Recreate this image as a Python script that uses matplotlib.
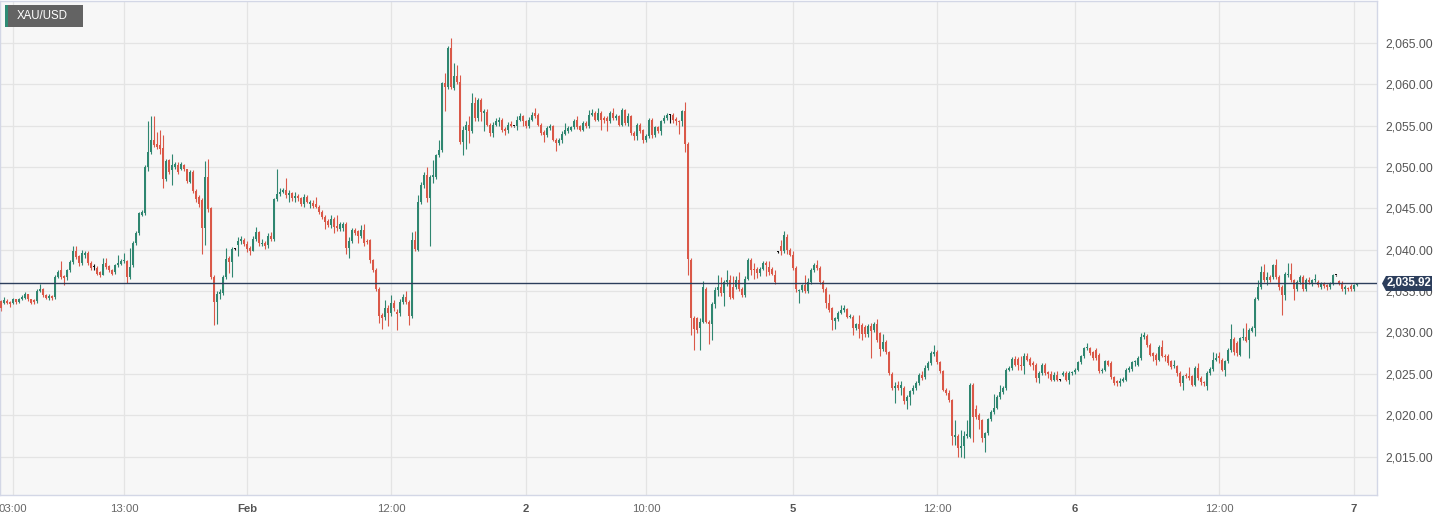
import numpy as np
import matplotlib
matplotlib.use("Agg")
import matplotlib.pyplot as plt
from matplotlib.patches import Polygon, Rectangle
from matplotlib.transforms import IdentityTransform

plt.rcParams['font.family'] = ['Liberation Sans', 'DejaVu Sans']

# XAU/USD 15-minute candles
open_ = [
    2033.8, 2033.6, 2033.8, 2033.6, 2033.6, 2034.0, 2033.7, 2034.0, 2034.2, 2034.6,
    2034.0, 2033.9, 2033.8, 2035.0, 2035.2, 2034.5, 2034.2, 2034.4, 2034.3, 2036.7,
    2037.5, 2036.8, 2036.7, 2037.5, 2038.5, 2039.9, 2039.2, 2038.4, 2039.4, 2039.6,
    2038.4, 2037.9, 2037.8, 2037.3, 2037.0, 2038.4, 2038.0, 2037.6, 2037.3, 2038.1,
    2038.3, 2038.6, 2038.6, 2036.7, 2038.1, 2040.8, 2042.0, 2044.2, 2044.4, 2050.0,
    2051.8, 2053.2, 2052.8, 2052.6, 2052.3, 2048.5, 2050.8, 2049.6, 2050.0, 2050.2,
    2049.8, 2050.2, 2049.7, 2048.2, 2049.4, 2047.1, 2046.4, 2046.0, 2042.6, 2048.8,
    2045.0, 2036.7, 2033.7, 2034.7, 2034.8, 2036.7, 2039.0, 2038.5, 2040.1, 2040.6,
    2041.0, 2041.2, 2040.7, 2040.2, 2039.9, 2041.3, 2042.1, 2040.7, 2040.8, 2040.6,
    2041.6, 2041.3, 2046.1, 2046.7, 2047.0, 2047.2, 2046.6, 2046.8, 2046.3, 2046.5,
    2046.2, 2045.5, 2046.4, 2045.5, 2045.6, 2045.5, 2045.2, 2044.6, 2044.0, 2043.5,
    2043.0, 2043.7, 2042.9, 2042.5, 2042.6, 2043.1, 2040.2, 2041.0, 2042.4, 2042.2,
    2041.6, 2042.4, 2041.1, 2041.2, 2038.7, 2037.6, 2035.3, 2032.1, 2031.9, 2033.0,
    2032.3, 2033.6, 2032.5, 2032.3, 2033.7, 2034.3, 2033.7, 2032.0, 2041.2, 2040.0,
    2045.8, 2047.8, 2049.0, 2046.3, 2048.8, 2048.8, 2051.4, 2052.0, 2060.1, 2059.6,
    2064.4, 2059.5, 2061.0, 2060.2, 2053.0, 2054.5, 2055.1, 2054.3, 2057.7, 2055.9,
    2058.1, 2056.5, 2056.6, 2055.1, 2054.1, 2055.1, 2055.4, 2055.7, 2054.6, 2054.4,
    2055.2, 2054.9, 2054.9, 2055.7, 2056.1, 2055.5, 2054.9, 2055.7, 2056.5, 2056.3,
    2055.1, 2054.2, 2053.9, 2054.7, 2054.9, 2053.3, 2052.9, 2053.2, 2054.0, 2054.3,
    2054.5, 2054.8, 2055.7, 2054.9, 2054.5, 2055.3, 2054.9, 2056.3, 2056.5, 2055.7,
    2056.5, 2055.9, 2055.9, 2055.5, 2056.5, 2055.9, 2056.1, 2055.1, 2056.9, 2055.3,
    2056.1, 2054.1, 2053.7, 2055.1, 2054.4, 2053.3, 2053.7, 2055.7, 2053.8, 2054.8,
    2054.3, 2055.5, 2055.9, 2056.3, 2056.3, 2055.8, 2055.5, 2055.5, 2056.7, 2052.8,
    2038.8, 2031.8, 2031.7, 2030.5, 2031.3, 2035.2, 2031.3, 2031.0, 2033.5, 2035.1,
    2035.5, 2034.8, 2036.1, 2036.3, 2035.5, 2035.5, 2036.3, 2035.3, 2034.5, 2036.5,
    2038.8, 2037.7, 2037.7, 2037.2, 2037.7, 2038.4, 2037.9, 2037.7, 2037.0, 2039.7,
    2040.5, 2039.8, 2041.5, 2040.0, 2039.4, 2037.8, 2035.0, 2035.1, 2035.7, 2035.0,
    2036.1, 2037.5, 2038.1, 2037.8, 2036.1, 2035.3, 2033.6, 2032.9, 2031.4, 2031.6,
    2032.4, 2032.7, 2032.8, 2031.9, 2031.9, 2030.5, 2031.0, 2030.9, 2030.7, 2029.8,
    2030.8, 2030.3, 2031.0, 2029.9, 2028.0, 2028.9, 2027.6, 2025.0, 2023.3, 2023.6,
    2023.3, 2023.3, 2021.7, 2022.2, 2022.9, 2023.3, 2023.9, 2024.9, 2024.6, 2025.7,
    2026.3, 2027.4, 2027.7, 2026.4, 2025.3, 2023.1, 2022.7, 2021.8, 2017.4, 2017.5,
    2016.0, 2016.3, 2017.5, 2017.4, 2023.7, 2020.8, 2020.0, 2019.4, 2017.2, 2017.8,
    2019.5, 2020.4, 2020.9, 2022.2, 2022.8, 2023.3, 2025.5, 2025.7, 2026.8, 2026.8,
    2026.1, 2025.9, 2027.1, 2026.8, 2026.3, 2026.1, 2024.5, 2025.1, 2026.1, 2025.2,
    2025.0, 2024.3, 2024.9, 2024.3, 2024.9, 2025.1, 2024.3, 2025.1, 2025.2, 2025.5,
    2026.4, 2027.1, 2028.1, 2028.1, 2027.6, 2027.9, 2027.3, 2025.3, 2025.5, 2026.5,
    2026.3, 2024.6, 2024.1, 2023.9, 2024.2, 2024.3, 2025.5, 2025.6, 2026.4, 2026.1,
    2026.9, 2029.4, 2029.6, 2028.5, 2027.5, 2027.3, 2026.7, 2028.2, 2027.2, 2027.2,
    2026.5, 2025.9, 2025.9, 2025.1, 2023.9, 2024.9, 2024.7, 2024.7, 2023.7, 2025.7,
    2024.5, 2024.0, 2023.5, 2025.1, 2025.6, 2026.7, 2027.1, 2026.7, 2025.5, 2026.5,
    2027.9, 2029.2, 2028.7, 2027.3, 2029.3, 2029.4, 2029.1, 2030.2, 2030.6, 2034.1,
    2035.5, 2037.3, 2036.3, 2036.7, 2036.7, 2038.1, 2036.7, 2035.5, 2034.5, 2036.9,
    2037.1, 2036.3, 2035.2, 2036.1, 2036.7, 2035.2, 2036.4, 2035.9, 2036.3, 2036.1,
    2035.5, 2035.9, 2035.7, 2035.5, 2035.9, 2036.9, 2036.2, 2036.0, 2035.2, 2035.3,
    2035.6, 2035.2, 2035.7,
]
high = [
    2033.9, 2034.3, 2034.0, 2033.8, 2034.2, 2034.1, 2034.2, 2034.5, 2034.9, 2034.7,
    2034.1, 2034.0, 2035.2, 2035.9, 2035.4, 2034.6, 2034.6, 2034.5, 2036.9, 2037.6,
    2038.6, 2037.0, 2037.7, 2038.7, 2040.5, 2040.4, 2039.4, 2040.0, 2039.9, 2039.8,
    2038.6, 2038.3, 2038.0, 2037.4, 2039.0, 2039.0, 2038.1, 2037.7, 2038.3, 2039.4,
    2038.9, 2039.6, 2038.8, 2040.2, 2041.0, 2042.3, 2044.6, 2044.8, 2050.2, 2055.5,
    2056.1, 2056.1, 2054.2, 2054.4, 2053.9, 2051.0, 2051.0, 2051.6, 2050.6, 2050.6,
    2050.6, 2050.4, 2049.8, 2049.6, 2049.6, 2047.3, 2046.6, 2046.3, 2050.7, 2050.9,
    2045.2, 2036.9, 2035.0, 2035.2, 2037.0, 2040.2, 2039.2, 2040.3, 2040.2, 2041.5,
    2041.6, 2041.4, 2041.0, 2040.4, 2041.6, 2042.8, 2042.3, 2041.3, 2041.0, 2042.0,
    2042.1, 2046.3, 2049.7, 2047.5, 2047.5, 2048.6, 2047.2, 2047.0, 2047.0, 2046.7,
    2046.4, 2046.7, 2046.6, 2046.0, 2046.0, 2046.4, 2045.4, 2044.8, 2044.2, 2043.7,
    2044.2, 2043.9, 2044.2, 2043.4, 2043.3, 2043.4, 2041.5, 2042.6, 2042.6, 2042.4,
    2043.0, 2043.1, 2041.3, 2041.3, 2038.9, 2037.8, 2035.5, 2032.4, 2033.9, 2033.3,
    2034.5, 2033.9, 2032.8, 2034.0, 2034.6, 2035.0, 2033.9, 2042.1, 2042.3, 2046.6,
    2048.2, 2049.4, 2050.0, 2049.0, 2050.8, 2051.6, 2053.2, 2060.3, 2061.4, 2064.6,
    2065.6, 2062.5, 2062.3, 2061.1, 2055.0, 2055.6, 2056.2, 2058.9, 2058.4, 2058.3,
    2058.3, 2057.0, 2057.0, 2055.3, 2055.4, 2055.9, 2056.0, 2055.9, 2054.8, 2055.4,
    2055.5, 2055.0, 2056.1, 2056.5, 2056.3, 2055.7, 2056.0, 2056.6, 2057.1, 2056.5,
    2055.3, 2054.4, 2054.9, 2055.2, 2055.1, 2053.5, 2053.5, 2054.3, 2055.3, 2055.0,
    2055.0, 2055.8, 2056.1, 2055.1, 2055.6, 2055.5, 2056.9, 2057.0, 2056.7, 2057.1,
    2056.7, 2056.1, 2056.1, 2056.8, 2057.1, 2056.4, 2056.3, 2057.1, 2057.0, 2056.5,
    2056.3, 2054.3, 2055.3, 2055.3, 2054.6, 2054.0, 2055.9, 2055.9, 2055.0, 2055.0,
    2055.7, 2056.3, 2056.5, 2056.4, 2056.5, 2056.0, 2055.7, 2056.9, 2057.8, 2053.0,
    2039.0, 2032.0, 2031.9, 2031.7, 2036.2, 2035.5, 2031.5, 2033.7, 2035.5, 2037.0,
    2036.7, 2036.4, 2037.6, 2037.0, 2036.8, 2036.8, 2037.3, 2035.5, 2036.8, 2039.0,
    2039.0, 2038.4, 2037.9, 2037.9, 2038.6, 2038.6, 2038.6, 2037.9, 2037.6, 2039.8,
    2041.2, 2042.3, 2041.9, 2040.2, 2039.9, 2038.0, 2035.3, 2035.9, 2036.9, 2036.6,
    2037.8, 2038.4, 2038.8, 2038.0, 2036.3, 2035.5, 2034.6, 2033.1, 2031.9, 2032.6,
    2033.3, 2033.3, 2033.0, 2032.2, 2032.1, 2031.2, 2032.1, 2031.1, 2030.9, 2031.0,
    2031.1, 2031.3, 2031.6, 2030.1, 2029.8, 2029.1, 2027.8, 2025.2, 2024.0, 2024.2,
    2024.1, 2023.5, 2022.4, 2023.1, 2023.6, 2024.2, 2025.1, 2025.3, 2026.1, 2026.5,
    2027.8, 2028.5, 2027.9, 2026.6, 2025.5, 2023.3, 2023.1, 2022.0, 2019.4, 2017.7,
    2018.2, 2018.1, 2019.4, 2023.9, 2023.9, 2021.2, 2020.3, 2019.6, 2018.0, 2019.7,
    2020.6, 2022.6, 2022.4, 2023.7, 2023.5, 2025.7, 2025.9, 2027.0, 2027.2, 2027.0,
    2027.1, 2027.5, 2027.5, 2027.0, 2026.5, 2026.3, 2025.4, 2026.3, 2026.3, 2025.4,
    2025.3, 2025.2, 2025.3, 2024.4, 2025.4, 2025.3, 2025.4, 2025.4, 2025.7, 2026.6,
    2027.3, 2028.3, 2028.7, 2028.3, 2027.8, 2028.1, 2027.5, 2025.7, 2026.7, 2026.7,
    2026.5, 2024.8, 2024.3, 2024.5, 2024.6, 2025.7, 2025.9, 2026.6, 2026.7, 2027.1,
    2029.9, 2030.0, 2029.8, 2028.7, 2027.7, 2027.5, 2028.5, 2029.1, 2027.4, 2027.4,
    2026.7, 2026.7, 2026.1, 2025.3, 2024.9, 2025.1, 2025.8, 2024.9, 2025.9, 2026.3,
    2024.7, 2024.2, 2025.3, 2025.8, 2027.7, 2027.5, 2027.7, 2026.9, 2026.7, 2028.1,
    2031.0, 2029.4, 2029.0, 2029.5, 2030.5, 2031.2, 2030.5, 2030.8, 2034.3, 2036.3,
    2038.0, 2038.3, 2037.3, 2036.9, 2038.3, 2038.9, 2036.9, 2035.7, 2037.3, 2038.4,
    2038.4, 2036.5, 2036.3, 2037.0, 2036.9, 2036.6, 2036.7, 2036.5, 2037.1, 2036.3,
    2036.1, 2036.1, 2035.9, 2036.1, 2037.1, 2037.0, 2036.4, 2036.2, 2035.7, 2035.5,
    2035.9, 2035.9, 2036.0,
]
low = [
    2032.6, 2033.4, 2033.4, 2033.1, 2033.4, 2033.4, 2033.6, 2033.9, 2034.1, 2033.8,
    2033.4, 2033.4, 2033.6, 2034.9, 2034.3, 2034.0, 2033.9, 2033.9, 2034.1, 2036.6,
    2036.5, 2035.7, 2036.4, 2037.3, 2038.3, 2038.9, 2038.0, 2038.2, 2039.0, 2038.2,
    2037.6, 2037.5, 2036.9, 2036.7, 2036.9, 2037.7, 2037.3, 2036.9, 2037.1, 2037.9,
    2038.1, 2038.4, 2036.0, 2036.5, 2037.9, 2040.6, 2041.8, 2044.1, 2044.2, 2049.5,
    2051.5, 2052.4, 2052.2, 2051.5, 2047.5, 2048.3, 2049.2, 2047.8, 2049.8, 2049.2,
    2049.6, 2049.5, 2048.0, 2048.0, 2046.9, 2045.8, 2045.1, 2039.5, 2040.6, 2044.5,
    2036.5, 2030.9, 2031.0, 2034.0, 2034.5, 2036.5, 2037.2, 2036.7, 2040.0, 2039.2,
    2040.7, 2040.4, 2039.7, 2039.3, 2039.8, 2041.0, 2040.5, 2040.5, 2040.1, 2040.2,
    2041.1, 2041.1, 2045.9, 2046.5, 2046.8, 2046.3, 2045.8, 2045.9, 2045.8, 2045.9,
    2045.3, 2045.2, 2045.6, 2045.0, 2045.0, 2045.0, 2044.3, 2043.7, 2042.5, 2042.8,
    2042.6, 2042.0, 2042.3, 2042.3, 2042.3, 2039.5, 2039.0, 2040.8, 2041.8, 2040.8,
    2041.4, 2040.5, 2040.7, 2038.4, 2037.3, 2035.0, 2031.2, 2030.4, 2031.5, 2030.8,
    2032.0, 2032.6, 2030.3, 2032.0, 2033.5, 2033.5, 2030.9, 2031.8, 2039.9, 2039.8,
    2045.5, 2047.5, 2045.8, 2040.4, 2048.1, 2048.5, 2051.2, 2051.8, 2056.7, 2059.4,
    2059.4, 2059.3, 2060.0, 2052.8, 2051.4, 2052.2, 2052.9, 2054.1, 2055.5, 2055.5,
    2055.5, 2054.3, 2054.9, 2053.7, 2053.6, 2054.9, 2055.0, 2054.2, 2053.9, 2054.1,
    2054.8, 2054.8, 2054.5, 2055.5, 2055.0, 2054.7, 2054.7, 2055.5, 2055.9, 2054.9,
    2053.9, 2053.0, 2053.6, 2054.5, 2053.1, 2051.9, 2052.7, 2052.9, 2053.8, 2054.1,
    2054.3, 2054.6, 2054.6, 2054.3, 2054.3, 2054.7, 2054.7, 2056.1, 2055.5, 2055.5,
    2054.4, 2055.3, 2054.3, 2055.3, 2055.7, 2055.7, 2054.9, 2054.9, 2055.1, 2055.0,
    2053.9, 2053.3, 2053.3, 2054.1, 2052.9, 2053.0, 2053.5, 2053.5, 2053.6, 2054.1,
    2053.9, 2055.3, 2055.7, 2055.3, 2055.3, 2055.1, 2054.0, 2054.9, 2051.8, 2036.9,
    2029.7, 2027.9, 2029.9, 2027.9, 2031.1, 2031.1, 2028.6, 2029.1, 2033.0, 2034.4,
    2034.4, 2033.2, 2035.6, 2034.1, 2034.0, 2035.2, 2035.0, 2034.3, 2034.3, 2036.3,
    2036.9, 2036.5, 2036.6, 2036.8, 2037.5, 2036.8, 2037.0, 2036.9, 2035.9, 2039.6,
    2039.4, 2039.6, 2039.5, 2039.2, 2037.6, 2034.9, 2033.6, 2034.9, 2034.8, 2034.8,
    2035.9, 2037.3, 2037.6, 2035.9, 2034.9, 2033.0, 2032.5, 2030.3, 2030.4, 2031.4,
    2032.2, 2032.5, 2031.7, 2031.7, 2029.7, 2030.3, 2029.3, 2029.1, 2029.4, 2029.4,
    2026.9, 2030.0, 2028.9, 2027.1, 2027.8, 2027.4, 2024.9, 2023.1, 2021.5, 2023.1,
    2022.5, 2021.4, 2020.7, 2021.3, 2022.6, 2023.1, 2023.7, 2024.3, 2024.4, 2025.5,
    2026.1, 2027.2, 2026.2, 2025.1, 2022.9, 2022.5, 2021.6, 2016.4, 2016.4, 2014.9,
    2015.0, 2014.8, 2017.3, 2017.2, 2016.8, 2019.6, 2018.4, 2016.8, 2015.6, 2017.6,
    2019.3, 2020.2, 2020.7, 2022.0, 2022.6, 2023.1, 2025.3, 2025.5, 2025.9, 2025.5,
    2025.5, 2025.0, 2026.5, 2025.9, 2025.5, 2024.0, 2023.9, 2024.9, 2024.9, 2024.5,
    2024.1, 2024.1, 2024.1, 2024.2, 2024.7, 2024.1, 2023.8, 2024.9, 2025.0, 2025.3,
    2026.2, 2026.9, 2027.9, 2027.3, 2026.7, 2026.7, 2025.1, 2025.1, 2025.3, 2025.9,
    2024.4, 2023.7, 2023.5, 2023.5, 2024.0, 2024.1, 2025.2, 2025.3, 2026.0, 2025.9,
    2026.7, 2029.2, 2028.3, 2027.1, 2026.5, 2026.1, 2026.5, 2027.0, 2026.5, 2026.1,
    2025.6, 2025.7, 2024.7, 2023.5, 2023.0, 2024.5, 2024.3, 2023.5, 2023.5, 2024.3,
    2023.6, 2023.5, 2023.1, 2024.9, 2025.4, 2026.5, 2026.3, 2025.3, 2024.7, 2026.3,
    2027.7, 2027.3, 2027.1, 2027.1, 2029.1, 2028.8, 2026.9, 2030.0, 2029.6, 2033.9,
    2035.3, 2036.1, 2035.7, 2036.1, 2036.5, 2036.5, 2035.1, 2032.1, 2033.9, 2036.7,
    2036.1, 2033.9, 2035.0, 2035.9, 2035.0, 2035.0, 2035.9, 2035.6, 2036.1, 2035.5,
    2035.3, 2035.4, 2035.1, 2035.3, 2035.7, 2036.8, 2035.7, 2035.0, 2034.7, 2035.0,
    2035.0, 2035.0, 2035.6,
]
close = [
    2032.9, 2033.9, 2033.6, 2033.5, 2034.0, 2033.7, 2034.0, 2034.3, 2034.6, 2034.0,
    2033.6, 2033.7, 2035.0, 2035.2, 2034.5, 2034.2, 2034.4, 2034.2, 2036.7, 2037.3,
    2036.7, 2036.6, 2037.5, 2038.5, 2039.9, 2039.1, 2038.4, 2039.6, 2039.6, 2038.4,
    2037.8, 2037.9, 2037.1, 2036.9, 2038.3, 2037.9, 2037.5, 2037.1, 2038.1, 2038.4,
    2038.6, 2038.8, 2036.7, 2037.9, 2040.8, 2042.0, 2044.4, 2044.6, 2050.0, 2051.8,
    2053.2, 2052.6, 2052.4, 2052.2, 2048.5, 2050.7, 2049.4, 2050.2, 2050.3, 2049.4,
    2050.3, 2049.7, 2048.3, 2049.4, 2047.1, 2046.1, 2045.5, 2042.6, 2048.8, 2044.9,
    2036.7, 2033.7, 2034.7, 2034.9, 2036.7, 2038.9, 2038.5, 2040.1, 2040.1, 2041.0,
    2041.3, 2040.7, 2040.1, 2039.9, 2041.3, 2042.1, 2040.8, 2040.8, 2040.5, 2041.6,
    2041.3, 2046.1, 2046.7, 2047.0, 2047.2, 2046.6, 2046.9, 2046.3, 2046.5, 2046.2,
    2045.5, 2046.4, 2045.8, 2045.8, 2045.3, 2045.2, 2044.6, 2044.0, 2043.4, 2043.0,
    2043.7, 2042.8, 2042.6, 2043.1, 2043.1, 2040.2, 2041.1, 2042.4, 2042.0, 2041.7,
    2042.4, 2040.8, 2040.9, 2038.7, 2037.6, 2035.3, 2032.0, 2031.8, 2033.0, 2032.4,
    2033.6, 2032.9, 2032.2, 2033.7, 2034.3, 2033.7, 2032.0, 2041.2, 2040.1, 2045.8,
    2047.8, 2049.0, 2046.3, 2048.8, 2049.0, 2051.4, 2052.0, 2060.1, 2059.6, 2064.4,
    2059.7, 2061.0, 2060.2, 2053.0, 2054.5, 2055.1, 2054.3, 2057.7, 2055.9, 2058.1,
    2056.6, 2056.8, 2055.1, 2054.1, 2055.1, 2055.5, 2055.7, 2054.5, 2054.3, 2055.1,
    2055.0, 2054.9, 2055.7, 2056.1, 2055.5, 2054.9, 2055.7, 2056.3, 2056.1, 2055.1,
    2054.1, 2053.9, 2054.7, 2054.9, 2053.3, 2052.9, 2053.2, 2054.0, 2054.5, 2054.7,
    2054.8, 2055.5, 2054.8, 2054.5, 2055.3, 2054.9, 2056.3, 2056.5, 2055.7, 2056.5,
    2055.7, 2055.7, 2055.5, 2056.5, 2055.9, 2056.1, 2055.1, 2056.9, 2055.3, 2056.1,
    2054.1, 2053.7, 2055.1, 2054.3, 2053.3, 2053.7, 2055.7, 2053.8, 2054.8, 2054.3,
    2055.5, 2055.9, 2056.3, 2056.3, 2055.7, 2055.5, 2055.4, 2056.7, 2052.8, 2038.9,
    2031.7, 2030.4, 2030.3, 2031.3, 2035.5, 2031.3, 2031.0, 2033.5, 2035.1, 2035.5,
    2034.8, 2036.1, 2036.3, 2034.3, 2034.2, 2036.3, 2035.3, 2034.5, 2036.5, 2038.8,
    2037.5, 2037.5, 2037.2, 2037.7, 2038.4, 2038.2, 2037.3, 2037.1, 2036.1, 2039.7,
    2039.8, 2041.8, 2040.0, 2039.4, 2037.8, 2035.2, 2035.1, 2035.7, 2035.0, 2036.1,
    2037.5, 2038.2, 2037.8, 2036.1, 2035.3, 2033.6, 2032.7, 2031.5, 2031.7, 2032.4,
    2032.7, 2032.9, 2031.9, 2032.0, 2030.5, 2031.0, 2030.4, 2029.8, 2029.8, 2030.8,
    2030.2, 2031.0, 2029.1, 2028.0, 2028.9, 2027.6, 2025.1, 2023.3, 2023.5, 2023.3,
    2023.6, 2021.7, 2022.2, 2022.9, 2023.3, 2023.9, 2024.9, 2024.5, 2025.7, 2026.3,
    2027.5, 2027.7, 2026.4, 2025.3, 2023.1, 2022.7, 2021.8, 2017.5, 2017.6, 2016.0,
    2016.3, 2017.5, 2017.7, 2023.7, 2019.8, 2019.8, 2019.4, 2017.2, 2017.8, 2019.5,
    2020.4, 2020.9, 2022.2, 2022.8, 2023.3, 2025.5, 2025.7, 2026.8, 2026.1, 2026.1,
    2025.9, 2027.1, 2026.7, 2026.1, 2026.1, 2024.5, 2025.1, 2026.1, 2025.1, 2025.0,
    2024.3, 2024.9, 2024.3, 2024.3, 2025.1, 2024.3, 2025.1, 2025.2, 2025.5, 2026.4,
    2027.1, 2028.1, 2028.3, 2027.5, 2026.9, 2026.9, 2025.3, 2025.5, 2026.5, 2026.1,
    2024.6, 2023.9, 2023.9, 2024.2, 2024.3, 2025.5, 2025.7, 2026.4, 2026.5, 2026.9,
    2029.4, 2029.7, 2028.5, 2027.3, 2027.1, 2026.7, 2028.2, 2027.2, 2027.0, 2026.3,
    2025.8, 2026.1, 2025.1, 2023.9, 2024.7, 2024.7, 2024.5, 2023.7, 2025.7, 2024.5,
    2024.0, 2023.9, 2025.1, 2025.6, 2026.7, 2026.9, 2026.9, 2025.5, 2026.5, 2027.9,
    2029.2, 2027.7, 2027.5, 2029.3, 2029.5, 2029.0, 2030.3, 2030.6, 2034.1, 2035.5,
    2037.3, 2036.3, 2036.7, 2036.3, 2038.1, 2036.7, 2035.5, 2034.5, 2037.1, 2037.1,
    2036.3, 2035.2, 2036.1, 2036.7, 2035.2, 2036.4, 2036.1, 2036.3, 2036.5, 2035.7,
    2035.9, 2035.6, 2035.5, 2035.9, 2036.9, 2036.9, 2035.9, 2035.2, 2035.5, 2035.2,
    2035.2, 2035.7, 2035.92,
]

# x-axis labels and the candle they sit on
tick_idx = [4, 41, 82, 130, 175, 215, 264, 312, 358, 406, 451]
tick_labels = ['03:00', '13:00', 'Feb', '12:00', '2', '10:00', '5', '12:00', '6', '12:00', '7']
day_labels = {'Feb', '2', '5', '6', '7'}
y_ticks = [2015, 2020, 2025, 2030, 2035, 2040, 2045, 2050, 2055, 2060, 2065]

symbol = 'XAU/USD'
last_price = close[-1]

up_col = '#2f8670'
down_col = '#da5848'
line_col = '#2c3e5c'

o = np.array(open_)
h = np.array(high)
l = np.array(low)
c = np.array(close)
idx = np.arange(len(c))

cols = np.where(c > o, up_col, np.where(c < o, down_col, '#111111'))

W, H = 1448, 521
fig = plt.figure(figsize=(W / 100, H / 100), dpi=100)
fig.patch.set_facecolor('white')
ax = fig.add_axes([0, 26 / H, 1377 / W, 494 / H])
ax.set_facecolor('#f7f7f7')

ax.set_xlim(-1 / 3, 1376 / 3)
ax.set_ylim(2010.37, 2070.04)

ax.set_yticks(y_ticks)
ax.set_yticklabels(['{:,.2f}'.format(v) for v in y_ticks])
ax.yaxis.tick_right()
ax.tick_params(axis='y', length=0, pad=6, labelsize=8.8, labelcolor='#555555')
ax.set_xticks(tick_idx)
ax.set_xticklabels(tick_labels)
ax.tick_params(axis='x', length=0, pad=6.5, labelsize=8.2, labelcolor='#666666')
for t in ax.get_xticklabels():
    if t.get_text() in day_labels:
        t.set_fontweight('bold')
        t.set_color('#555555')

ax.grid(True, color='#e4e4e4', lw=0.9)
ax.set_axisbelow(True)
for s in ax.spines.values():
    s.set_color('#d3d7e6')
    s.set_linewidth(1)

# candles
ax.vlines(idx, l, h, colors=cols, lw=0.8, zorder=2)
body_lo = np.minimum(o, c)
body_h = np.maximum(np.abs(c - o), 0.14)
ax.bar(idx, body_h, bottom=body_lo, width=0.8, color=cols, lw=0, zorder=3,
       antialiased=False)

# last price line + tag
ax.axhline(last_price, color=line_col, lw=1, zorder=4)
fig.canvas.draw()
xr = ax.get_window_extent().x1
yp = ax.transData.transform((0, last_price))[1]
tag = Polygon([(xr + 5, yp), (xr + 9, yp + 7.5), (xr + 55, yp + 7.5),
               (xr + 55, yp - 7.5), (xr + 9, yp - 7.5)],
              closed=True, facecolor=line_col, edgecolor='none',
              transform=IdentityTransform(), zorder=5)
fig.add_artist(tag)
fig.text(xr + 32, yp, '{:,.2f}'.format(last_price), transform=IdentityTransform(),
         ha='center', va='center', color='white', fontsize=8.3, fontweight='bold',
         zorder=6)

# symbol badge top-left
fig.add_artist(Rectangle((5, H - 27), 78, 22, facecolor='#636363', edgecolor='none',
                         transform=IdentityTransform()))
fig.add_artist(Rectangle((5, H - 27), 3, 22, facecolor='#2e8b74', edgecolor='none',
                         transform=IdentityTransform()))
fig.text(17, H - 16, symbol, transform=IdentityTransform(), ha='left', va='center',
         color='white', fontsize=8.3)

plt.savefig('out.png', dpi=100)
